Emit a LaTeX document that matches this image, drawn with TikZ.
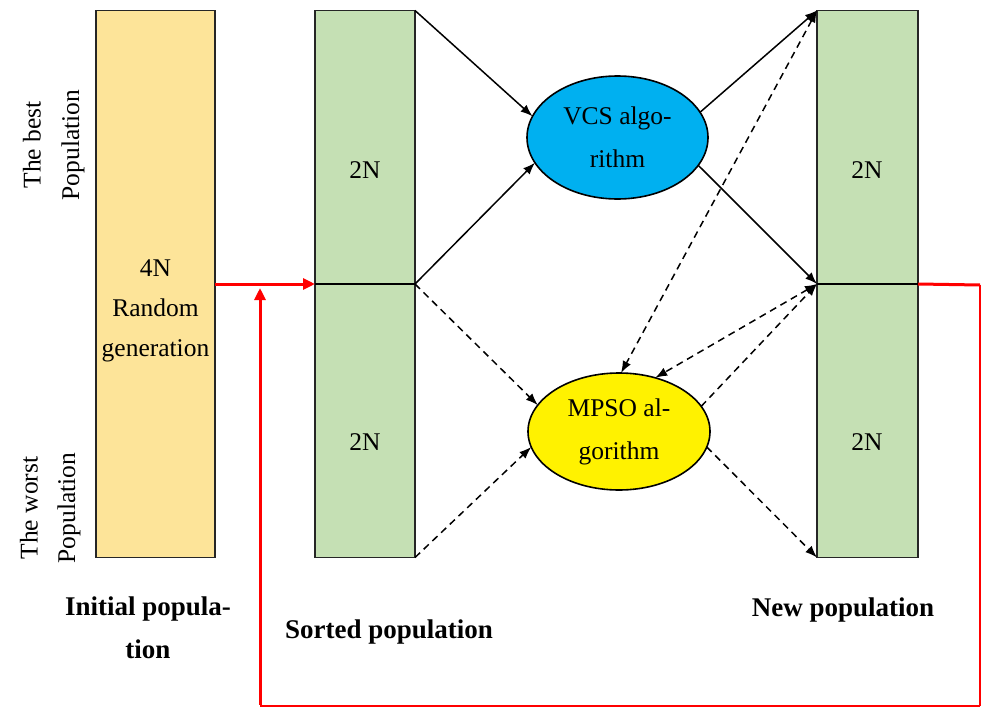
\documentclass[tikz,border=0pt]{standalone}
\usepackage{fontspec}
\setmainfont{Liberation Serif}
\usetikzlibrary{arrows.meta,shapes.geometric}
\definecolor{orangefill}{RGB}{253,228,153}
\definecolor{greenfill}{RGB}{197,224,180}
\definecolor{vcsblue}{RGB}{0,176,240}
\definecolor{redline}{RGB}{255,0,0}
\begin{document}
\begin{tikzpicture}[x=1pt,y=-1pt,
  txt/.style={font=\fontsize{25.5}{40}\selectfont, align=center, inner sep=0pt},
  boldtxt/.style={font=\fontsize{27}{43}\selectfont\bfseries, align=center, inner sep=0pt},
  popbox/.style={draw=black!85, line width=1.8pt, inner sep=0pt, outer sep=0pt},
  algo/.style={ellipse, draw=black, line width=1.6pt, inner sep=0pt, outer sep=0pt,
     font=\fontsize{25.5}{43}\selectfont, align=center},
  solidarr/.style={line width=1.5pt, -{Latex[length=12pt,width=9pt]}},
  dasharr/.style={line width=1.5pt, dash pattern=on 7pt off 5pt, -{Latex[length=12pt,width=9pt]}},
  dashboth/.style={line width=1.5pt, dash pattern=on 7pt off 5pt, {Latex[length=12pt,width=9pt]}-{Latex[length=12pt,width=9pt]}},
  redarr/.style={redline, line width=3pt, -{Triangle[length=12pt,width=11pt]}}
]
\useasboundingbox (0,0) rectangle (982,709);

% population boxes
\node[popbox, fill=orangefill, minimum width=119pt, minimum height=547pt] (init) at (155.5,284) {};
\node[popbox, fill=greenfill, minimum width=100pt, minimum height=547pt] (sorted) at (365,284) {};
\node[popbox, fill=greenfill, minimum width=101pt, minimum height=547pt] (new) at (867.5,284) {};
\draw[line width=1.6pt] (sorted.west) -- (sorted.east);
\draw[line width=1.6pt] (new.west) -- (new.east);

% box texts
\node[txt] (t4n) at (155.5,311) {4N\\Random\\generation};
\node[txt] (s1) at (365,170) {2N};
\node[txt] (s2) at (365,442) {2N};
\node[txt] (n1) at (867,170) {2N};
\node[txt] (n2) at (867,442) {2N};

% side labels
\node[txt, rotate=90] (best1) at (32,145) {The best};
\node[txt, rotate=90] (best2) at (73,145) {Population};
\node[txt, rotate=90] (worst1) at (29,508) {The worst};
\node[txt, rotate=90] (worst2) at (69,508) {Population};

% bottom labels
\node[boldtxt] (linit) at (148,628) {Initial popula-\\tion};
\node[boldtxt] (lsorted) at (389,632) {Sorted population};
\node[boldtxt] (lnew) at (843,610) {New population};

% algorithms
\node[algo, fill=vcsblue, minimum width=181pt, minimum height=123pt] (vcs) at (617.5,137.5) {VCS algo-\\rithm};
\node[algo, fill=yellow, minimum width=182pt, minimum height=117pt] (mpso) at (619,431.5) {MPSO al-\\gorithm};

% solid arrows
\draw[solidarr] (sorted.north east) -- (vcs.166);
\draw[solidarr] (sorted.east) -- (vcs.197);
\draw[solidarr] (vcs.17) -- (new.north west);
\draw[solidarr] (vcs.341) -- (new.west);

% dashed arrows
\draw[dasharr] (sorted.east) -- (mpso.162);
\draw[dasharr] (sorted.south east) -- (mpso.190);
\draw[dasharr] (mpso.17) -- (new.west);
\draw[dasharr] (mpso.350) -- (new.south west);
\draw[dashboth] (new.north west) -- (mpso.88);
\draw[dashboth] (new.west) -- (mpso.56);

% red feedback loop
\coordinate (c1) at (980,285);
\coordinate (c2) at (980,706);
\coordinate (c3) at (260,706);
\coordinate (c4) at (260,288);
\draw[redarr] (init.east) -- (sorted.west);
\draw[redline, line width=3pt] (new.east) -- (c1);
\draw[redline, line width=1.2pt] (c1) -- (c2);
\draw[redline, line width=2.2pt] (c2) -- (c3);
\draw[redline, line width=3pt, -{Triangle[length=12pt,width=11pt]}] ([yshift=1.1pt]c3) -- (c4);
\end{tikzpicture}
\end{document}
